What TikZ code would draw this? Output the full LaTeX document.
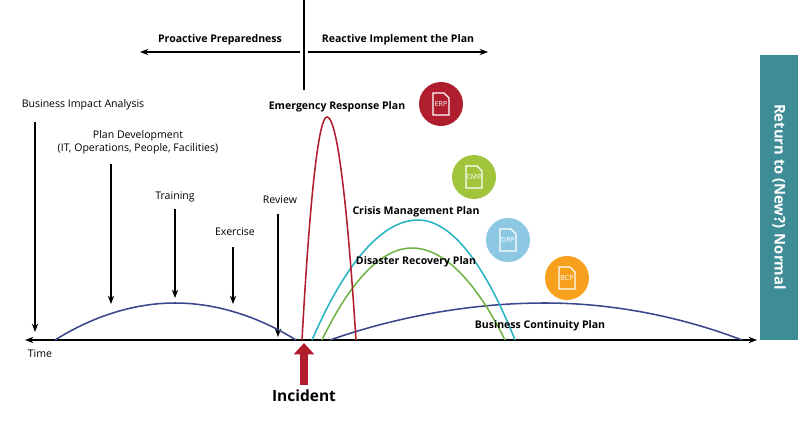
\documentclass[tikz,border=0pt]{standalone}
\usepackage{fontspec}
\setmainfont{Open Sans}
\usetikzlibrary{arrows.meta,calc}
\definecolor{erpred}{RGB}{176,30,45}
\definecolor{cmpgreen}{RGB}{160,196,60}
\definecolor{drpblue}{RGB}{140,200,226}
\definecolor{bcporange}{RGB}{246,160,30}
\definecolor{arcblue}{RGB}{60,70,140}
\definecolor{arcteal}{RGB}{40,180,195}
\definecolor{arcgreen}{RGB}{110,180,70}
\definecolor{barteal}{RGB}{62,140,150}
\tikzset{
	lbl/.style={font=\fontsize{7.5}{9}\selectfont, align=center, inner sep=1pt},
	plan/.style={font=\fontsize{7.5}{9}\selectfont\bfseries, inner sep=1pt},
	pointer/.style={thick, -{Stealth[length=6pt]}},
	curve/.style={line width=1.1pt},
	badge/.style={circle, minimum size=1.1cm, inner sep=0pt, text=white,
		font=\fontsize{5}{6}\selectfont}
}
\newcommand{\docicon}[1]{%
	\draw[white, line width=0.8pt] ($(#1)+(-8,11)$) -- ++(0,-22) -- ++(11,0) -- ++(5,5) -- ++(0,17) -- cycle;}
\begin{document}
\begin{tikzpicture}[x=0.025cm, y=-0.025cm]
	\useasboundingbox (0,0) rectangle (800,423);

	% time axis
	\coordinate (tstart) at (25,340);
	\coordinate (tend) at (757,340);
	\draw[thick, {Stealth[length=6pt]}-{Stealth[length=6pt]}] (tstart) -- (tend);
	\node (time) [lbl] at (40,354) {Time};

	% proactive / reactive
	\coordinate (divtop) at (304,0);
	\coordinate (divbot) at (304,90);
	\draw[thick] (divtop) -- (divbot);
	\coordinate (pro) at (300,52);
	\coordinate (proend) at (140,52);
	\coordinate (rea) at (308,52);
	\coordinate (reaend) at (488,52);
	\draw[pointer] (pro) -- (proend);
	\draw[pointer] (rea) -- (reaend);
	\node (protext) [plan] at (220,40) {Proactive Preparedness};
	\node (reatext) [plan] at (398,40) {Reactive Implement the Plan};

	% preparation steps
	\node (bia) [lbl] at (83,105) {Business Impact Analysis};
	\node (pd) [lbl] at (138,142) {Plan Development\\(IT, Operations, People, Facilities)};
	\node (train) [lbl] at (175,197) {Training};
	\node (exer) [lbl] at (235,232) {Exercise};
	\node (rev) [lbl] at (280,200) {Review};
	\coordinate (biaend) at (35,332);
	\coordinate (pdend) at (111,304);
	\coordinate (trainend) at (175,298);
	\coordinate (exerend) at (233,304);
	\coordinate (revend) at (278,337);
	\draw[pointer] (35,122) -- (biaend);
	\draw[pointer] (111,164) -- (pdend);
	\draw[pointer] (175,209) -- (trainend);
	\draw[pointer] (233,247) -- (exerend);
	\draw[pointer] (278,214) -- (revend);

	% arcs
	\draw[arcblue, curve] (55,340) parabola bend (175,303) (296,340);
	\draw[arcblue, curve] (330,340) parabola bend (545,303) (742,340);
	\draw[arcgreen, curve] (322,340) parabola bend (412,248) (505,340);
	\draw[arcteal, curve] (312,340) parabola bend (418,220) (515,340);
	\draw[erpred, curve] (302,340) parabola bend (327,117) (356,340);

	% plan labels
	\node (erp) [plan] at (337,107) {Emergency Response Plan};
	\node (cmp) [plan] at (416,212) {Crisis Management Plan};
	\node (drp) [plan] at (416,262) {Disaster Recovery Plan};
	\node (bcp) [plan] at (540,326) {Business Continuity Plan};

	% badges
	\node (erpicon) [badge, fill=erpred] at (441,104) {ERP};
	\node (cmpicon) [badge, fill=cmpgreen] at (474,177) {CMP};
	\node (drpicon) [badge, fill=drpblue] at (508,240) {DRP};
	\node (bcpicon) [badge, fill=bcporange] at (567,278) {BCP};
	\docicon{erpicon}
	\docicon{cmpicon}
	\docicon{drpicon}
	\docicon{bcpicon}

	% return to normal
	\fill[barteal] (760,55) rectangle (798,340);
	\node (normal) [font=\fontsize{10.5}{12}\selectfont\bfseries, text=white, rotate=-90] at (779,197) {Return to (New?) Normal};

	% incident
	\node (inc) [font=\fontsize{11}{13}\selectfont\bfseries] at (304,396) {Incident};
	\coordinate (incend) at (304,343);
	\draw[erpred, line width=5pt, -{Triangle[length=8pt, width=14pt]}] (inc.north) -- (incend);
\end{tikzpicture}
\end{document}
